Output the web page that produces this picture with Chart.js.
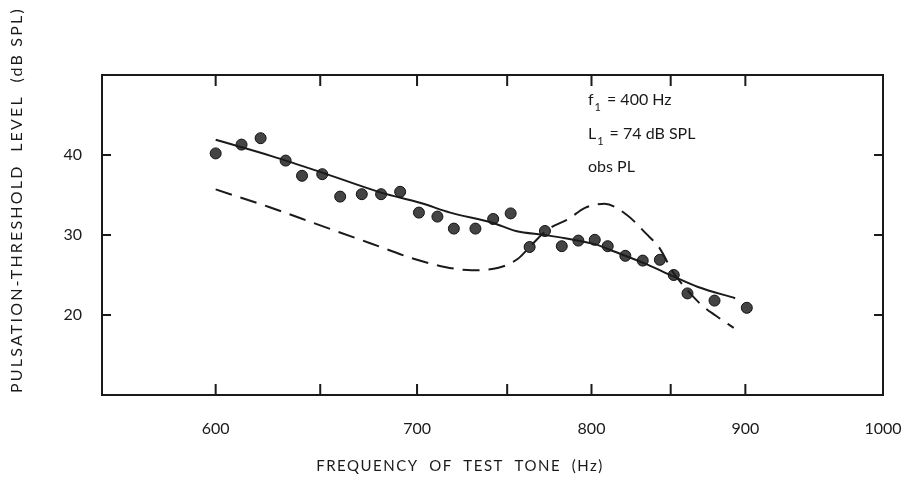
<!DOCTYPE html>
<html>
<head>
<meta charset="utf-8">
<script src="https://cdn.jsdelivr.net/npm/chart.js@4.4.1/dist/chart.umd.min.js"></script>
<style>
  html, body { margin: 0; padding: 0; background: #fff; }
  #wrap { width: 913px; height: 486px; position: relative; }
</style>
</head>
<body>
<div id="wrap"><canvas id="plChart"></canvas></div>
<script>
// observed pulsation thresholds (dots)
const obsFreq = [600, 612, 621, 633, 641, 651, 660, 671, 681, 691, 701, 711, 720, 732, 742, 752, 763, 772, 782, 792, 802, 810, 821, 832, 843, 852, 861, 879, 901];
const obsLevel = [40.2, 41.3, 42.1, 39.3, 37.4, 37.6, 34.8, 35.1, 35.1, 35.4, 32.8, 32.3, 30.8, 30.8, 32.0, 32.7, 28.5, 30.5, 28.6, 29.3, 29.4, 28.6, 27.4, 26.8, 26.9, 25.0, 22.7, 21.8, 20.9];

// smooth curve through the observations (solid)
const fitFreq = [600, 627, 651, 681, 702, 718, 742, 755, 772, 784, 803, 812, 835, 852, 868, 893];
const fitLevel = [41.9, 39.8, 37.8, 35.3, 34.0, 32.8, 31.5, 30.5, 30.0, 29.6, 28.8, 28.1, 26.3, 24.8, 23.5, 22.1];

// predicted curve (dashed)
const predFreq = [600, 625, 650, 675, 700, 715, 730, 745, 756, 763, 773, 786, 796, 808, 822, 834, 843, 851, 860, 870, 880, 892];
const predLevel = [35.7, 33.5, 31.2, 29.0, 26.9, 26.0, 25.6, 25.9, 27.0, 28.5, 30.6, 32.0, 33.4, 33.9, 32.5, 30.2, 28.3, 25.5, 23.3, 21.3, 19.9, 18.4];

const xLabelValues = [600, 700, 800, 900, 1000];
const xMarkValues = [600, 650, 700, 750, 800, 850, 900];
const yTickValues = [20, 30, 40];

const toPoints = (xs, ys) => xs.map((x, i) => ({ x: x, y: ys[i] }));

const INK = '#1a1a1a';
const FONT = 'Lato, "DejaVu Sans", sans-serif';

// frame, inward tick marks, axis titles and the f1/L1 note
const framePlugin = {
  id: 'frame',
  afterDraw(chart) {
    const { ctx, chartArea: a, scales } = chart;
    ctx.save();
    ctx.strokeStyle = INK;
    ctx.lineWidth = 2;
    ctx.strokeRect(a.left, a.top, a.right - a.left, a.bottom - a.top);

    ctx.beginPath();
    xMarkValues.forEach(v => {
      const px = scales.x.getPixelForValue(v);
      ctx.moveTo(px, a.top); ctx.lineTo(px, a.top + 11);
      ctx.moveTo(px, a.bottom); ctx.lineTo(px, a.bottom - 11);
    });
    yTickValues.forEach(v => {
      const py = scales.y.getPixelForValue(v);
      ctx.moveTo(a.left, py); ctx.lineTo(a.left + 9, py);
      ctx.moveTo(a.right, py); ctx.lineTo(a.right - 9, py);
    });
    ctx.stroke();

    ctx.fillStyle = INK;
    ctx.textBaseline = 'middle';

    // x title
    ctx.font = '15px ' + FONT;
    ctx.letterSpacing = '1.5px';
    ctx.textAlign = 'center';
    ctx.fillText('FREQUENCY  OF  TEST  TONE  (Hz)', 460, 466);

    // y title
    ctx.save();
    ctx.translate(17, 200);
    ctx.rotate(-Math.PI / 2);
    ctx.font = '16px ' + FONT;
    ctx.letterSpacing = '2.2px';
    ctx.fillText('PULSATION-THRESHOLD  LEVEL  (dB SPL)', 0, 0);
    ctx.restore();

    // note
    ctx.letterSpacing = '0px';
    ctx.textAlign = 'left';
    const note = (main, rest, y) => {
      ctx.font = '16px ' + FONT;
      ctx.fillText(main, 588, y);
      let x = 588 + ctx.measureText(main).width + 1;
      ctx.font = '11px ' + FONT;
      ctx.fillText('1', x, y + 7);
      x += ctx.measureText('1').width + 6;
      ctx.font = '16px ' + FONT;
      ctx.fillText(rest, x, y);
    };
    note('f', '= 400 Hz', 100);
    note('L', '= 74 dB SPL', 134);
    ctx.font = '16px ' + FONT;
    ctx.fillText('obs PL', 588, 167);
    ctx.restore();
  }
};

new Chart(document.getElementById('plChart'), {
  type: 'scatter',
  data: {
    datasets: [
      {
        label: 'fit',
        data: toPoints(fitFreq, fitLevel),
        showLine: true,
        borderColor: INK,
        borderWidth: 2,
        pointRadius: 0,
        cubicInterpolationMode: 'monotone'
      },
      {
        label: 'predicted',
        data: toPoints(predFreq, predLevel),
        showLine: true,
        borderColor: INK,
        borderWidth: 2,
        borderDash: [17, 9],
        pointRadius: 0,
        cubicInterpolationMode: 'monotone'
      },
      {
        label: 'obs PL',
        data: toPoints(obsFreq, obsLevel),
        showLine: false,
        pointRadius: 5.5,
        backgroundColor: '#444',
        borderColor: '#111',
        borderWidth: 1
      }
    ]
  },
  options: {
    responsive: true,
    maintainAspectRatio: false,
    animation: false,
    layout: { padding: { left: 0, right: 30, top: 75, bottom: 0 } },
    plugins: {
      legend: { display: false },
      tooltip: { enabled: false }
    },
    scales: {
      x: {
        type: 'logarithmic',
        min: 550,
        max: 1000,
        afterBuildTicks: s => { s.ticks = xLabelValues.map(v => ({ value: v })); },
        afterFit: s => {
          s.height = 91;
          // the 1000 label may hang past the frame; don't shrink the plot for it
          s.paddingLeft = 0;
          s.paddingRight = 0;
        },
        grid: { display: false, drawTicks: false },
        border: { display: false },
        ticks: {
          color: INK,
          font: { family: FONT, size: 16 },
          padding: 24,
          autoSkip: false,
          maxRotation: 0,
          callback: v => String(v)
        }
      },
      y: {
        min: 10,
        max: 50,
        afterBuildTicks: s => { s.ticks = yTickValues.map(v => ({ value: v })); },
        afterFit: s => { s.width = 102; },
        grid: { display: false, drawTicks: false },
        border: { display: false },
        ticks: {
          color: INK,
          font: { family: FONT, size: 16 },
          padding: 20
        }
      }
    }
  },
  plugins: [framePlugin]
});
</script>
</body>
</html>
